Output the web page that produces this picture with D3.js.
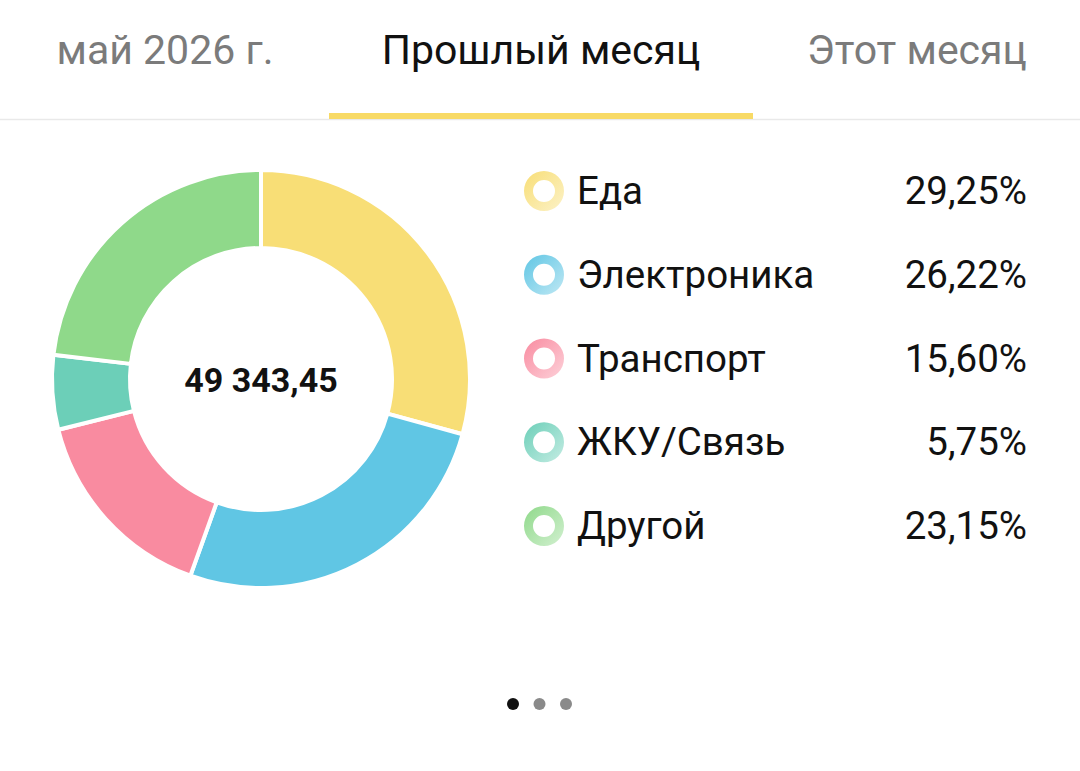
<!DOCTYPE html>
<html>
<head>
<meta charset="utf-8">
<script src="https://cdn.jsdelivr.net/npm/d3@7"></script>
<style>
  html, body { margin: 0; padding: 0; background: #fff; }
  svg { display: block; font-family: Roboto, "Noto Sans", sans-serif; }
</style>
</head>
<body>
<div id="chart"></div>
<script>
// tabs on top
var tabs = ["май 2026 г.", "Прошлый месяц", "Этот месяц"];
var activeTab = 1;

// donut data
var categories = ["Еда", "Электроника", "Транспорт", "ЖКУ/Связь", "Другой"];
var shares = [29.25, 26.22, 15.60, 5.75, 23.15];
var colors = ["#F8DE76", "#60C6E4", "#F98BA0", "#6CCFB8", "#8FD98A"];
var total = "49 343,45";

// page indicator
var pages = [true, false, false];

var width = 1080, height = 771;

var svg = d3.select("#chart").append("svg")
    .attr("width", width).attr("height", height);

// ---- tabs ----
var tabX = d3.scaleOrdinal().domain(tabs).range([165, 541, 917]);

svg.selectAll("text.tab").data(tabs).enter().append("text")
    .attr("class", "tab")
    .attr("x", d => tabX(d))
    .attr("y", 64)
    .attr("text-anchor", "middle")
    .attr("font-size", 41)
    .attr("fill", (d, i) => i == activeTab ? "#111" : "#7b7b7b")
    .text(d => d);

svg.append("line")
    .attr("x1", 0).attr("x2", width)
    .attr("y1", 119.5).attr("y2", 119.5)
    .attr("stroke", "#e9e9e9").attr("stroke-width", 1.5);

svg.append("rect")
    .attr("x", 329).attr("y", 113)
    .attr("width", 424).attr("height", 6)
    .attr("fill", "#F8DA66");

// ---- donut ----
var cx = 261, cy = 379;
var pie = d3.pie().sort(null).value(d => d)(shares);
var arc = d3.arc().innerRadius(131).outerRadius(209);

var g = svg.append("g").attr("transform", "translate(" + cx + "," + cy + ")");
g.selectAll("path").data(pie).enter().append("path")
    .attr("d", arc)
    .attr("fill", (d, i) => colors[i])
    .attr("stroke", "#fff")
    .attr("stroke-width", 4)
    .attr("stroke-linejoin", "miter");

g.append("text")
    .attr("x", 0).attr("y", 13)
    .attr("text-anchor", "middle")
    .attr("font-size", 34)
    .attr("font-weight", 700)
    .attr("fill", "#111")
    .text(total);

// ---- legend ----
var rowY = d3.scalePoint().domain(categories).range([191, 526]);

var defs = svg.append("defs");
colors.forEach((c, i) => {
    var grad = defs.append("linearGradient")
        .attr("id", "grad" + i)
        .attr("x1", "0").attr("y1", "0").attr("x2", "1").attr("y2", "1");
    grad.append("stop").attr("offset", "0%").attr("stop-color", c);
    grad.append("stop").attr("offset", "100%").attr("stop-color", d3.interpolateRgb(c, "#fff")(0.6));
});

var ring = d3.arc().innerRadius(11).outerRadius(20).startAngle(0).endAngle(2 * Math.PI);

var rows = svg.selectAll("g.row").data(categories).enter().append("g")
    .attr("class", "row")
    .attr("transform", d => "translate(0," + rowY(d) + ")");

rows.append("path")
    .attr("transform", "translate(544,0)")
    .attr("d", ring())
    .attr("fill", (d, i) => "url(#grad" + i + ")");

rows.append("text")
    .attr("x", 577).attr("y", 13)
    .attr("font-size", 38.5)
    .attr("fill", "#111")
    .text(d => d);

rows.append("text")
    .attr("x", 1027).attr("y", 13)
    .attr("text-anchor", "end")
    .attr("font-size", 38.5)
    .attr("fill", "#111")
    .text((d, i) => d3.format(".2f")(shares[i]).replace(".", ",") + "%");

// ---- page dots ----
var dotX = d3.scalePoint().domain(d3.range(pages.length)).range([513, 566]);
svg.selectAll("circle.dot").data(pages).enter().append("circle")
    .attr("class", "dot")
    .attr("cx", (d, i) => dotX(i))
    .attr("cy", 704)
    .attr("r", 6)
    .attr("fill", d => d ? "#111" : "#8a8a8a");
</script>
</body>
</html>
